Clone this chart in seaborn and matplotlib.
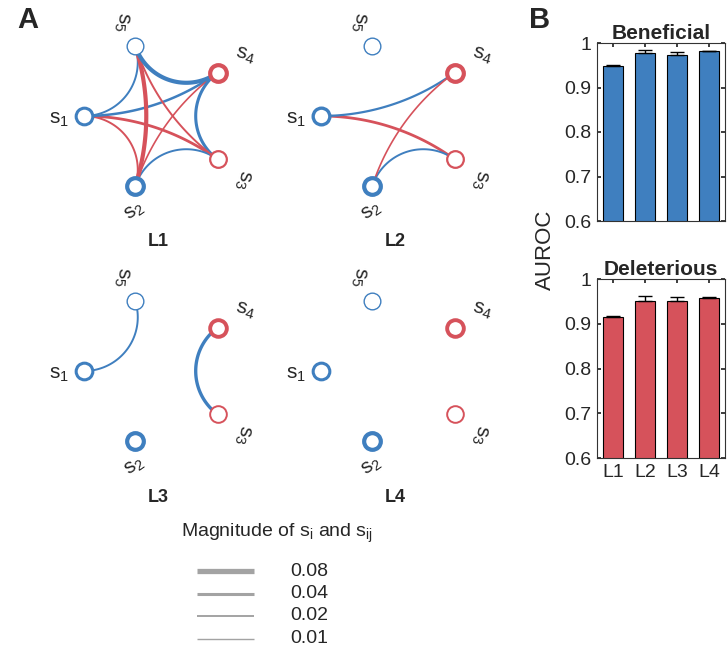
import matplotlib
matplotlib.use('Agg')
import matplotlib.pyplot as plt
from matplotlib.lines import Line2D
import seaborn as sns
import numpy as np
import pandas as pd

# node magnitudes (s_i) and signs (+1 blue, -1 red) for s1..s5
node_names = ["s1", "s2", "s3", "s4", "s5"]
node_sign = [1, 1, -1, -1, 1]
node_mag = {
    "L1": [0.04, 0.06, 0.025, 0.06, 0.01],
    "L2": [0.045, 0.06, 0.025, 0.06, 0.01],
    "L3": [0.04, 0.06, 0.02, 0.055, 0.01],
    "L4": [0.04, 0.06, 0.02, 0.055, 0.01],
}
# pairwise terms s_ij: (i, j, magnitude, sign)
edges = {
    "L1": [(1, 2, 0.02, -1), (1, 3, 0.035, -1), (1, 4, 0.03, 1), (1, 5, 0.02, 1),
           (2, 3, 0.02, 1), (2, 4, 0.015, -1), (2, 5, 0.06, -1),
           (3, 4, 0.04, 1), (3, 5, 0.02, -1), (4, 5, 0.06, 1)],
    "L2": [(1, 3, 0.035, -1), (1, 4, 0.025, 1), (2, 3, 0.02, 1), (2, 4, 0.015, -1)],
    "L3": [(1, 5, 0.02, 1), (3, 4, 0.045, 1)],
    "L4": [],
}

# AUROC bars
levels = ["L1", "L2", "L3", "L4"]
benef_mean = [0.948, 0.978, 0.972, 0.981]
benef_err = [0.003, 0.006, 0.007, 0.002]
delet_mean = [0.916, 0.951, 0.951, 0.957]
delet_err = [0.002, 0.010, 0.009, 0.002]

legend_mags = [0.08, 0.04, 0.02, 0.01]

BLUE = "#3F7FBF"
RED = "#D6525B"
GREY = "#A3A3A3"

sns.set_theme(style="white")
plt.rcParams['font.family'] = ['Liberation Sans', 'DejaVu Sans']
plt.rcParams['mathtext.default'] = 'regular'

W, H = 727, 648
fig = plt.figure(figsize=(W / 100, H / 100), dpi=100)


def lw(m):
    return 0.6 + 40 * m


def arc(p, q, n=80):
    # circle orthogonal to the unit circle through p and q
    c = (p + q) / (1 + np.dot(p, q))
    r = np.linalg.norm(c - p)
    a0 = np.arctan2(*(p - c)[::-1])
    a1 = np.arctan2(*(q - c)[::-1])
    d = (a1 - a0 + np.pi) % (2 * np.pi) - np.pi
    t = a0 + np.linspace(0, 1, n) * d
    return c[0] + r * np.cos(t), c[1] + r * np.sin(t)


R = 74  # radius in px
S = 230
centers = {"L1": (158, 116), "L2": (395, 116), "L3": (158, 371), "L4": (395, 371)}
ang = np.deg2rad(180 + 72 * np.arange(5))
pos = np.c_[np.cos(ang), np.sin(ang)]
lab_ang = np.deg2rad([182, 256.5, 323, 34.6, 111])
lab_dist = [1.34, 1.33, 1.43, 1.43, 1.36]
lab_rot = [0, 35, -100, -15, -95]

for name, (cx, cy) in centers.items():
    ax = fig.add_axes([(cx - S / 2) / W, 1 - (cy + S / 2) / H, S / W, S / H])
    lim = S / 2 / R
    ax.set_xlim(-lim, lim)
    ax.set_ylim(-lim, lim)
    ax.axis('off')
    for i, j, m, sgn in edges[name]:
        x, y = arc(pos[i - 1], pos[j - 1])
        ax.plot(x, y, color=BLUE if sgn > 0 else RED, lw=lw(m), solid_capstyle='butt')
    for k in range(5):
        col = BLUE if node_sign[k] > 0 else RED
        ax.plot(pos[k, 0], pos[k, 1], 'o', ms=12, mfc='white', mec=col,
                mew=lw(node_mag[name][k]))
        ax.text(lab_dist[k] * np.cos(lab_ang[k]), lab_dist[k] * np.sin(lab_ang[k]),
                r'$\mathregular{s_{%d}}$' % (k + 1), rotation=lab_rot[k],
                ha='center', va='center', rotation_mode='anchor', fontsize=15)
    fig.text(cx / W, 1 - (cy + 126) / H, name, ha='center', va='center',
             fontsize=13, fontweight='bold')

fig.text(28 / W, 1 - 20 / H, "A", fontsize=21, fontweight='bold', ha='center', va='center')
fig.text(540 / W, 1 - 20 / H, "B", fontsize=21, fontweight='bold', ha='center', va='center')

# legend for magnitudes
fig.text(277 / W, 1 - 533 / H, r"Magnitude of $\mathregular{s_i}$ and $\mathregular{s_{ij}}$",
         fontsize=14, ha='center', va='center')
for k, m in enumerate(legend_mags):
    y = 1 - (571 + 22.5 * k) / H
    fig.add_artist(Line2D([197 / W, 254 / W], [y, y], transform=fig.transFigure,
                          color=GREY, lw=lw(m), solid_capstyle='butt'))
    fig.text(290 / W, y, "%.2f" % m, fontsize=14, ha='left', va='center')


# bar panels
def bar_panel(rect, means, errs, color, title, show_x):
    ax = fig.add_axes(rect)
    df = pd.DataFrame({"level": levels, "auroc": means})
    sns.barplot(data=df, x="level", y="auroc", color=color, saturation=1,
                width=0.62, edgecolor='black', linewidth=0.8, ax=ax)
    ax.errorbar(np.arange(len(levels)), means, yerr=[np.zeros(len(errs)), errs],
                fmt='none', ecolor='black', elinewidth=1, capsize=5, capthick=1)
    ax.set_ylim(0.6, 1.0)
    ax.set_xlim(-0.5, 3.5)
    ax.set_yticks([0.6, 0.7, 0.8, 0.9, 1.0])
    ax.set_yticklabels(["0.6", "0.7", "0.8", "0.9", "1"])
    ax.set_xlabel("")
    ax.set_ylabel("")
    ax.set_title(title, fontsize=15, fontweight='bold', pad=3)
    ax.tick_params(direction='in', length=3, top=True, right=True, labelsize=14,
                   bottom=True, left=True, pad=4)
    if not show_x:
        ax.set_xticklabels([])
    for sp in ax.spines.values():
        sp.set_color('#333333')
        sp.set_linewidth(0.8)
    return ax


bar_panel([597 / W, 1 - 221 / H, 128 / W, 178 / H], benef_mean, benef_err, BLUE,
          "Beneficial", False)
bar_panel([597 / W, 1 - 458 / H, 128 / W, 179 / H], delet_mean, delet_err, RED,
          "Deleterious", True)
fig.text(545 / W, 1 - 250 / H, "AUROC", rotation=90, fontsize=16, ha='center', va='center')

fig.savefig("out.png", dpi=100)
